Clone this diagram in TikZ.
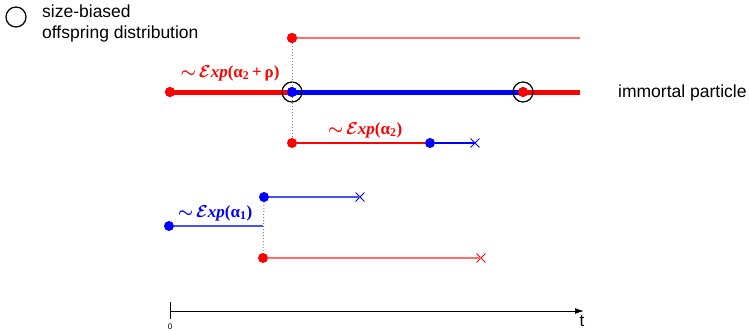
\documentclass[tikz,border=0pt]{standalone}
\usepackage{fontspec}
\usepackage{amsmath}
\usepackage{bm}
\setmainfont{Liberation Sans}
\newfontfamily\lserif{Liberation Serif}
\usetikzlibrary{arrows.meta,shapes.misc}
\definecolor{myred}{RGB}{255,0,0}
\definecolor{myblue}{RGB}{0,0,255}
\definecolor{lred}{RGB}{255,110,110}
\definecolor{lblue}{RGB}{70,80,255}
\newcommand{\myexpr}[1]{{\lserif\bfseries $\bm{\sim}$\,$\bm{\mathcal{E}}${\itshape xp}(#1)}}
\newcommand{\mysub}[1]{\textsubscript{#1}}
\begin{document}
\begin{tikzpicture}[x=1pt,y=-1pt]
\tikzset{
  dotr/.style={circle,fill=myred,inner sep=0pt,minimum size=10pt},
  dotb/.style={circle,fill=myblue,inner sep=0pt,minimum size=10pt},
  ring/.style={circle,draw=black,line width=1.2pt,inner sep=0pt,minimum size=20pt},
  crossmark/.style={cross out,draw,line width=0.9pt,inner sep=0pt,minimum size=8pt},
  fatline/.style={line width=5pt},
  slimline/.style={line width=1.4pt},
  vdots/.style={gray,dotted,line width=1pt},
  labtext/.style={font=\fontsize{17}{18}\selectfont,inner sep=0pt},
  plaintext/.style={font=\fontsize{17.5}{21}\selectfont,inner sep=0pt}}
\useasboundingbox (0,0) rectangle (749,330);
% legend
\node[ring] (legring) at (16,17) {};
\node[plaintext,align=left,anchor=north west] (legtxt) at (42,5) {size-biased\\offspring distribution};
% immortal line
\coordinate (iend) at (580,92);
\node[dotr] (i0) at (170,92) {};
\node[dotb] (i1) at (292,92) {};
\node[dotr] (i2) at (523,92) {};
\draw[fatline,myred] (i0.center) -- (i1.center);
\draw[fatline,myblue] (i1.center) -- (i2.center);
\draw[fatline,myred] (i2.center) -- (iend);
\node[dotr] (i0b) at (170,92) {};
\node[dotb] (i1b) at (292,92) {};
\node[dotr] (i2b) at (523,92) {};
\node[ring] (r1) at (292,92) {};
\node[ring] (r2) at (523,92) {};
\node[plaintext,anchor=base west] (imm) at (618,97) {immortal particle};
\node[labtext,text=myred] (l1) at (230,73) {\myexpr{α\mysub{2}\,+\,ρ}};
% top branch
\coordinate (tend) at (580,38);
\node[dotr] (t0) at (292,38) {};
\draw[slimline,lred] (t0.center) -- (tend);
\node[dotr] (t0b) at (292,38) {};
% middle branch
\node[dotr] (m0) at (292,143) {};
\node[dotb] (m1) at (430,143) {};
\node[crossmark,myblue] (m2) at (475,143) {};
\draw[slimline,myred] (m0) -- (m1);
\draw[slimline,myblue] (m1) -- (m2.center);
\node[labtext,text=myred] (l2) at (365,130) {\myexpr{α\mysub{2}}};
\draw[vdots] (t0) -- (i1);
\draw[vdots] (i1) -- (m0);
% lower family
\node[dotb] (b0) at (169,226) {};
\coordinate (bj) at (263,226);
\draw[slimline,lblue] (b0) -- (bj);
\node[labtext,text=myblue] (l3) at (215,213) {\myexpr{α\mysub{1}}};
\node[dotb] (b1) at (264,197) {};
\node[crossmark,myblue] (b2) at (360,197) {};
\draw[slimline,lblue] (b1) -- (b2.center);
\node[dotr] (c1) at (263,258) {};
\node[crossmark,myred] (c2) at (481,258) {};
\draw[slimline,lred] (c1) -- (c2.center);
\draw[vdots] (b1) -- (c1);
% axis
\coordinate (a0) at (170,311);
\coordinate (a1) at (584,311);
\coordinate (tk0) at (170,302);
\coordinate (tk1) at (170,319);
\draw[line width=1pt,-{Latex[length=9pt,width=6pt]}] (a0) -- (a1);
\draw[line width=1pt] (tk0) -- (tk1);
\node[inner sep=0pt,font=\fontsize{8}{8}\selectfont] (zero) at (170,327) {0};
\node[inner sep=0pt,font=\fontsize{17}{17}\selectfont] (tl) at (582,321) {t};
\end{tikzpicture}
\end{document}
